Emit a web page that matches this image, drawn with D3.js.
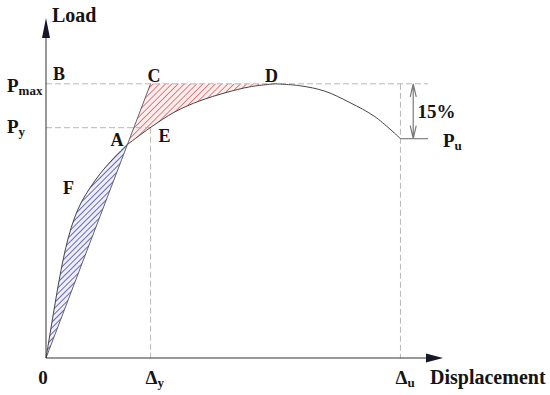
<!DOCTYPE html>
<html><head><meta charset="utf-8">
<script src="https://cdn.jsdelivr.net/npm/d3@7"></script>
<style>body{margin:0;background:#fff}svg{display:block}</style>
</head><body><svg id="c" width="550" height="395"></svg>
<script>
// ---- data (normalised: Pmax = 1, Δu = 1) ----
const curveDisp = [0, 0.0071, 0.0155, 0.0254, 0.0367, 0.0494, 0.0635, 0.0804, 0.1001, 0.1241, 0.1523, 0.189, 0.2285, 0.293, 0.364, 0.434, 0.505, 0.575, 0.646, 0.716, 0.787, 0.858, 0.928, 1.0];
const curveLoad = [0, 0.0547, 0.1204, 0.1971, 0.281, 0.365, 0.4416, 0.5109, 0.5693, 0.6204, 0.6715, 0.7263, 0.7774, 0.839, 0.898, 0.938, 0.967, 0.989, 1.0, 0.993, 0.973, 0.931, 0.880, 0.80];
const deltaY = 0.295, deltaU = 1.0;
const pMax = 1.0, pY = 0.84, pU = 0.80;
const xTickValues = [0, deltaY, deltaU];
const xTickMain = ["0", "Δ", "Δ"];
const xTickSub = ["", "y", "u"];
const yTickValues = [pMax, pY];
const yTickMain = ["P", "P"];
const yTickSub = ["max", "y"];
const axisTitles = ["Load", "Displacement"];
const pointNames = ["A", "B", "C", "D", "E", "F"];
const dropText = "15%";
const puMain = "P", puSub = "u";

// ---- scales ----
const svg = d3.select("#c");
const x = d3.scaleLinear().domain([0, 1.12]).range([46, 443]);
const y = d3.scaleLinear().domain([0, 1.24]).range([358, 18]);
const FONT = "'Liberation Serif','Times New Roman',serif";
const TXT = "#151515";

// hatch patterns
const defs = svg.append("defs");
function hatch(id, gap, bg, col, w) {
  const p = defs.append("pattern").attr("id", id).attr("patternUnits", "userSpaceOnUse")
    .attr("width", gap).attr("height", gap).attr("patternTransform", "rotate(45)");
  p.append("rect").attr("width", gap).attr("height", gap).attr("fill", bg);
  p.append("line").attr("x1", 0).attr("y1", 0).attr("x2", 0).attr("y2", gap)
    .attr("stroke", col).attr("stroke-width", w);
}
hatch("hRed", 4.4, "#fdeeee", "#df5f63", 1.6);
hatch("hBlue", 4, "#efeffb", "#3c3ca2", 1.5);

// ---- curve geometry ----
const pts = curveDisp.map((d, i) => [d, curveLoad[i]]);
const secant = d => d * pMax / deltaY;
// find A: crossing of curve and secant O-C
let iA = 1, A = null;
for (let i = 1; i < pts.length; i++) {
  const f0 = pts[i - 1][1] - secant(pts[i - 1][0]);
  const f1 = pts[i][1] - secant(pts[i][0]);
  if (i > 1 && f0 > 0 && f1 <= 0) {
    const t = f0 / (f0 - f1);
    A = [pts[i - 1][0] + t * (pts[i][0] - pts[i - 1][0]), pts[i - 1][1] + t * (pts[i][1] - pts[i - 1][1])];
    iA = i; break;
  }
}
const iD = d3.maxIndex(curveLoad);
const D = pts[iD];
const C = [deltaY, pMax];
const O = pts[0];

const lineGen = d3.line().x(d => x(d[0])).y(d => y(d[1])).curve(d3.curveCatmullRom.alpha(0.5));
const partBlue = pts.slice(0, iA).concat([A]);
const partRed = [A].concat(pts.slice(iA, iD + 1));
const partRest = pts.slice(iD);

// hatched regions
svg.append("path").attr("d", lineGen(partBlue) + "Z").attr("fill", "url(#hBlue)").attr("stroke", "none");
svg.append("path").attr("d", lineGen(partRed) + `L${x(C[0])},${y(C[1])}Z`).attr("fill", "url(#hRed)").attr("stroke", "none");

// ---- dashed reference lines ----
const dash = "6,3";
const gl = svg.append("g").attr("stroke", "#b0b0b0").attr("stroke-width", 0.9).attr("stroke-dasharray", dash).attr("fill", "none");
gl.append("line").attr("x1", x(0)).attr("x2", x(1.078)).attr("y1", y(pMax)).attr("y2", y(pMax));
gl.append("line").attr("x1", x(0)).attr("x2", x(deltaY)).attr("y1", y(pY)).attr("y2", y(pY));
gl.append("line").attr("x1", x(deltaY)).attr("x2", x(deltaY)).attr("y1", y(pY)).attr("y2", y(0));
gl.append("line").attr("x1", x(deltaU)).attr("x2", x(deltaU)).attr("y1", y(pMax)).attr("y2", y(0));

// secant line O-C
svg.append("line").attr("x1", x(O[0])).attr("y1", y(O[1])).attr("x2", x(C[0])).attr("y2", y(C[1]))
  .attr("stroke", "#555").attr("stroke-width", 0.9);

// load-displacement curve
[partBlue, partRed, partRest].forEach(p =>
  svg.append("path").attr("d", lineGen(p)).attr("fill", "none").attr("stroke", "#444").attr("stroke-width", 1));

// Pu level line and 15% arrow
svg.append("line").attr("x1", x(deltaU)).attr("x2", x(1.078)).attr("y1", y(pU)).attr("y2", y(pU))
  .attr("stroke", "#8a8a8a").attr("stroke-width", 1.3);
const ax = x(1.036), yt = y(pMax), yb = y(pU);
svg.append("path")
  .attr("d", `M${ax},${yt}L${ax},${yb}M${ax - 3},${yt + 13}L${ax},${yt}L${ax + 3},${yt + 13}M${ax - 3},${yb - 13}L${ax},${yb}L${ax + 3},${yb - 13}`)
  .attr("fill", "none").attr("stroke", "#7a7a7a").attr("stroke-width", 1.2);

// ---- axes ----
const axc = "#333";
const xEnd = x.range()[1], yEnd = y.range()[1], x0 = x(0), y0 = y(0);
svg.append("line").attr("x1", x0).attr("y1", y0).attr("x2", xEnd - 10).attr("y2", y0).attr("stroke", axc).attr("stroke-width", 1);
svg.append("line").attr("x1", x0).attr("y1", y0).attr("x2", x0).attr("y2", yEnd + 10).attr("stroke", axc).attr("stroke-width", 1);
svg.append("path").attr("d", `M${xEnd},${y0}L${xEnd - 17},${y0 - 4.5}L${xEnd - 17},${y0 + 4.5}Z`).attr("fill", "#16182a");
svg.append("path").attr("d", `M${x0},${yEnd}L${x0 - 4},${yEnd + 20}L${x0 + 4},${yEnd + 20}Z`).attr("fill", "#16182a");

// ---- text ----
function label(px, py, main, sub, size, subSize, anchor) {
  const t = svg.append("text").attr("x", px).attr("y", py).attr("font-family", FONT).attr("font-weight", "bold")
    .attr("font-size", size).attr("fill", TXT).attr("text-anchor", anchor || "start");
  t.append("tspan").text(main);
  if (sub) t.append("tspan").attr("font-size", subSize).attr("dy", 3).text(sub);
  return t;
}
label(x0 + 6, 22, axisTitles[0], "", 20);
label(xEnd - 13, 384, axisTitles[1], "", 20);

const xTickDx = [-3, -5, -5];
xTickValues.forEach((v, i) => label(x(v) + xTickDx[i], 384, xTickMain[i], xTickSub[i], 19, 13, i === 0 ? "middle" : "start"));
const yTickDy = [8, 5];
yTickValues.forEach((v, i) => label(7, y(v) + yTickDy[i], yTickMain[i], yTickSub[i], 19, 13));
label(x(1.12), y(pU) + 8, puMain, puSub, 19, 13);
label(x(1.048), y((pMax + pU) / 2) + 7, dropText, "", 19);

// point labels
const E = [deltaY, pY];
const Fpt = pts[9];
const ptPos = {
  A: [x(A[0]) - 17, y(A[1]) + 1],
  B: [x(0) + 7, y(pMax) - 4],
  C: [x(C[0]) - 3, y(C[1]) - 2],
  D: [x(D[0]) - 10, y(D[1]) - 2],
  E: [x(E[0]) + 8, y(E[1]) + 14],
  F: [x(Fpt[0]) - 27, y(Fpt[1]) + 6]
};
pointNames.forEach(n => label(ptPos[n][0], ptPos[n][1], n, "", 18));
</script></body></html>
